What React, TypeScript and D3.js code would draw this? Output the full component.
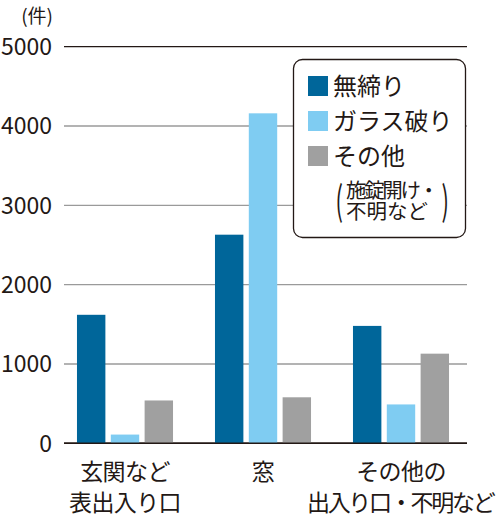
import React from 'react';
import * as d3 from 'd3';

// categories along x (each split into label lines)
const categories = ['玄関など表出入り口', '窓', 'その他の出入り口・不明など'];
const categoryLines = [['玄関など', '表出入り口'], ['窓'], ['その他の', '出入り口・不明など']];
const seriesNames = ['無締り', 'ガラス破り', 'その他'];
const seriesNote = ['施錠開け・', '不明など'];
const seriesColors = ['#00669a', '#7fccf2', '#a0a0a0'];

// values per series, in category order
const unlocked = [1620, 2630, 1480];
const glassBroken = [110, 4160, 490];
const other = [540, 580, 1130];
const seriesValues = [unlocked, glassBroken, other];

const yTicks = [0, 1000, 2000, 3000, 4000, 5000];
const unitLabel = '(件)';

const FONT = '"Noto Sans CJK JP", "Noto Sans", sans-serif';
const INK = '#231815';

export default function App() {
  const width = 500;
  const height = 530;
  const left = 64;
  const right = 467;

  const y = d3.scaleLinear().domain([0, 5000]).range([443.3, 46.7]);
  const x = d3.scaleBand<string>()
    .domain(categories)
    .range([56, 470])
    .paddingInner(0.304)
    .paddingOuter(0.152);
  const xs = d3.scaleBand<string>()
    .domain(seriesNames)
    .range([0, x.bandwidth()])
    .paddingInner(0.16);

  // legend box
  const lg = { x: 293.5, y: 59.5, w: 172, h: 178 };

  // long lines with a '・' are set tighter, like the source type
  const fitWidth = (ln: string) => (ln.includes('・') ? ln.length * 20.9 : undefined);

  return (
    <svg
      width={width}
      height={height}
      style={{ position: 'absolute', left: 0, top: 0, background: '#fff' }}
      fontFamily={FONT}
    >
      {/* grid lines */}
      {yTicks.map(t => (
        <line
          key={t}
          x1={left}
          x2={right}
          y1={y(t)}
          y2={y(t)}
          stroke={t === 0 || t === 5000 ? INK : '#9a9a9a'}
          strokeWidth={t === 0 ? 1.6 : 1.3}
        />
      ))}
      {/* y tick labels */}
      {yTicks.map(t => (
        <text key={'l' + t} x={52} y={y(t)} dy="0.36em" textAnchor="end" fontSize={23} fill={INK}>
          {t}
        </text>
      ))}
      <text x={53} y={16} dy="0.36em" textAnchor="end" fontSize={19} fill={INK}>
        {unitLabel}
      </text>

      {/* bars */}
      {categories.map((c, ci) => (
        <g key={c} transform={`translate(${x(c)},0)`}>
          {seriesNames.map((s, si) => (
            <rect
              key={s}
              x={xs(s)}
              y={y(seriesValues[si][ci])}
              width={xs.bandwidth()}
              height={y(0) - y(seriesValues[si][ci])}
              fill={seriesColors[si]}
            />
          ))}
        </g>
      ))}
      {/* baseline over the bars */}
      <line x1={left} x2={right} y1={y(0)} y2={y(0)} stroke={INK} strokeWidth={1.6} />

      {/* category labels */}
      {categories.map((c, ci) => {
        const cx = (x(c) as number) + x.bandwidth() / 2;
        return categoryLines[ci].map((ln, li) => (
          <text
            key={c + li}
            x={cx}
            y={472 + li * 31}
            dy="0.36em"
            textAnchor="middle"
            fontSize={23}
            letterSpacing={-0.6}
            textLength={fitWidth(ln)}
            lengthAdjust="spacing"
            fill={INK}
          >
            {ln}
          </text>
        ));
      })}

      {/* legend */}
      <rect x={lg.x} y={lg.y} width={lg.w} height={lg.h} rx={9} fill="#fff" stroke={INK} strokeWidth={1.3} />
      {seriesNames.map((s, si) => (
        <g key={'lg' + s} transform={`translate(308,${76 + si * 35})`}>
          <rect width={20} height={20} fill={seriesColors[si]} />
          <text x={25} y={10} dy="0.36em" fontSize={24} fill={INK}>
            {s}
          </text>
        </g>
      ))}
      <g transform="translate(335.5,201) scale(1,1.8)">
        <text x={0} y={0} dy="0.36em" fontSize={22} fill={INK}>(</text>
      </g>
      <g transform="translate(449,201) scale(1,1.8)">
        <text x={0} y={0} dy="0.36em" fontSize={22} fill={INK} textAnchor="end">)</text>
      </g>
      <text fontSize={20.5} fill={INK}>
        {seriesNote.map((n, i) => (
          <tspan
            key={n}
            x={346}
            y={191 + i * 21}
            dy="0.36em"
            textLength={n.includes('・') ? 93 : undefined}
            lengthAdjust="spacing"
          >
            {n}
          </tspan>
        ))}
      </text>
    </svg>
  );
}
